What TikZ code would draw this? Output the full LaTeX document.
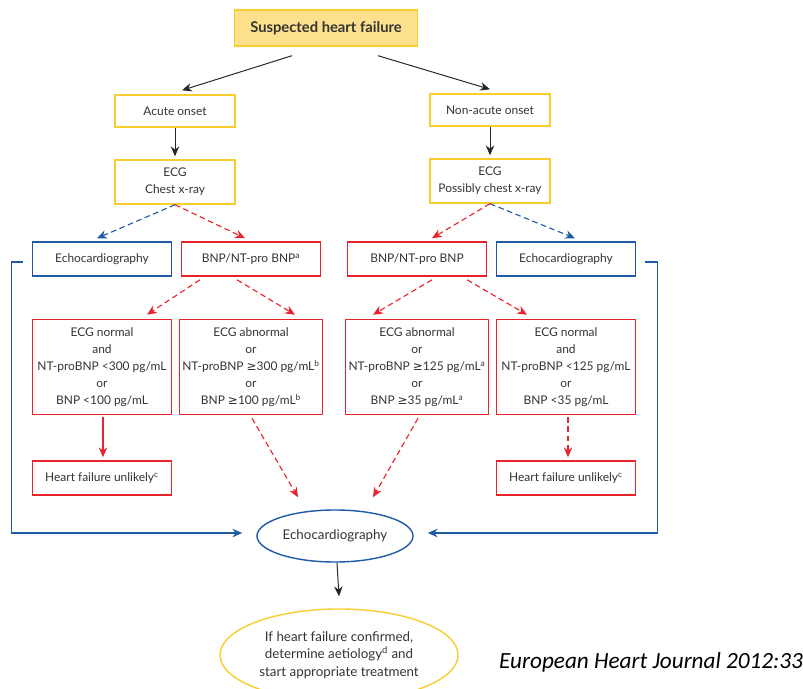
\documentclass[tikz,border=0pt]{standalone}
\usepackage{fontspec}
\setmainfont{Lato}
\newfontfamily\symfont{DejaVu Sans}
\newfontfamily\citefont{Carlito}
\usetikzlibrary{calc, shapes, arrows.meta}
\definecolor{hfyellow}{HTML}{F8CE2E}
\definecolor{hffill}{HTML}{FDE08C}
\definecolor{hfred}{HTML}{E8232B}
\definecolor{hfblue}{HTML}{1F5AA6}
\newcommand{\gte}{{\symfont ≥}}

\begin{document}
\begin{tikzpicture}
  [
    x = 0.025cm, y = -0.025cm,
    font = \fontsize{8.5}{12}\selectfont,
    every node/.style = {align = center, inner sep = 2pt, text = black!80},
    titlebox/.style = {draw = hfyellow, fill = hffill, line width = 1pt,
                       minimum width = 4.575cm, minimum height = 0.9cm},
    yellowbox/.style = {draw = hfyellow, line width = 1pt, minimum width = 3cm, minimum height = 0.8cm},
    redbox/.style = {draw = hfred, line width = 1.1pt, minimum width = 3.475cm, minimum height = 0.85cm},
    tallbox/.style = {redbox, minimum height = 2.375cm},
    bluebox/.style = {draw = hfblue, line width = 1pt, minimum width = 3.475cm, minimum height = 0.85cm},
    tip/.style = {-{Stealth[length = 7pt, width = 6pt]}},
    blk/.style = {draw = black!85, line width = 0.7pt, tip},
    redline/.style = {draw = hfred, line width = 0.8pt, tip},
    reddash/.style = {redline, dash pattern = on 4pt off 2.5pt},
    bluedash/.style = {draw = hfblue, line width = 0.8pt, tip, dash pattern = on 4pt off 2.5pt},
    blueline/.style = {draw = hfblue, line width = 1pt, tip}
  ]
  \useasboundingbox (0,0) rectangle (803,689);

  % top of the tree
  \node[titlebox, font = \fontsize{10.5}{12}\selectfont\bfseries] (Start) at (326,28) {Suspected heart failure};
  \node[yellowbox] (Acute) at (175,111) {Acute onset};
  \node[yellowbox] (NonAcute) at (490,110) {Non-acute onset};
  \node[yellowbox, minimum height = 1.1cm] (AcuteECG) at (175,182) {ECG\\Chest x-ray};
  \node[yellowbox, minimum height = 1.1cm] (NonAcuteECG) at (490,181) {ECG\\Possibly chest x-ray};

  % tests
  \node[bluebox] (EchoL) at (102,259) {Echocardiography};
  \node[redbox] (BnpL) at (251,259) {BNP/NT-pro BNP\textsuperscript{a}};
  \node[redbox] (BnpR) at (417,259) {BNP/NT-pro BNP};
  \node[bluebox] (EchoR) at (566,259) {Echocardiography};

  \node[tallbox] (NormL) at (102,367)
    {ECG normal\\and\\NT-proBNP <300 pg/mL\\or\\BNP <100 pg/mL};
  \node[tallbox] (AbnL) at (251,367)
    {ECG abnormal\\or\\NT-proBNP \gte300 pg/mL\textsuperscript{b}\\or\\BNP \gte100 pg/mL\textsuperscript{b}};
  \node[tallbox] (AbnR) at (417,367)
    {ECG abnormal\\or\\NT-proBNP \gte125 pg/mL\textsuperscript{a}\\or\\BNP \gte35 pg/mL\textsuperscript{a}};
  \node[tallbox] (NormR) at (566,367)
    {ECG normal\\and\\NT-proBNP <125 pg/mL\\or\\BNP <35 pg/mL};

  \node[redbox] (UnlikelyL) at (102,478) {Heart failure unlikely\textsuperscript{c}};
  \node[redbox] (UnlikelyR) at (566,478) {Heart failure unlikely\textsuperscript{c}};

  % bottom
  \node[ellipse, draw = hfblue, line width = 1pt, minimum width = 3.9cm, minimum height = 1.3cm,
        font = \fontsize{9.5}{12}\selectfont] (Echo) at (335,536) {Echocardiography};
  \node[ellipse, draw = hfyellow, line width = 1pt, minimum width = 5.95cm, minimum height = 2.3cm,
        font = \fontsize{9.5}{12.5}\selectfont] (Final) at (339,655)
    {If heart failure confirmed,\\determine aetiology\textsuperscript{d} and\\start appropriate treatment};

  \node[anchor = west, text = black, font = \citefont\itshape\fontsize{16.5}{18}\selectfont] (Cite) at (496,662)
    {European Heart Journal 2012:33};

  % arrows
  \draw[blk] ($(Start.south)+(-34,9)$) -- ($(Acute.north)+(7,-4)$);
  \draw[blk] ($(Start.south)+(52,9)$) -- ($(NonAcute.north)+(0,-4)$);
  \draw[blk] (Acute.south) -- ($(AcuteECG.north)+(0,-3)$);
  \draw[blk] (NonAcute.south) -- ($(NonAcuteECG.north)+(0,-3)$);

  \draw[bluedash] (AcuteECG.south) -- ($(EchoL.north)+(-5,-3)$);
  \draw[reddash] (AcuteECG.south) -- ($(BnpL.north)+(-6,-3)$);
  \draw[reddash] (NonAcuteECG.south) -- ($(BnpR.north)+(15,-3)$);
  \draw[bluedash] (NonAcuteECG.south) -- ($(EchoR.north)+(9,-3)$);

  \draw[reddash] ($(BnpL.south)+(-51,3)$) -- ($(NormL.north)+(45,-4)$);
  \draw[reddash] ($(BnpL.south)+(-14,3)$) -- ($(AbnL.north)+(44,-4)$);
  \draw[reddash] ($(BnpR.south)+(15,3)$) -- ($(AbnR.north)+(-44,-4)$);
  \draw[reddash] ($(BnpR.south)+(50,3)$) -- ($(NormR.north)+(-39,-4)$);

  \draw[redline] ($(NormL.south)+(1,2)$) -- ($(UnlikelyL.north)+(1,-3)$);
  \draw[reddash] ($(NormR.south)+(2,2)$) -- ($(UnlikelyR.north)+(2,-3)$);

  \draw[reddash] ($(AbnL.south)+(1,3)$) -- ($(Echo.north)+(-37,-12)$);
  \draw[reddash] ($(AbnR.south)+(1,3)$) -- ($(Echo.north)+(38,-12)$);

  \draw[blueline] ($(EchoL.west)+(-9,3)$) -- ($(EchoL.west)+(-20,3)$) |- ($(Echo.west)+(-14,-3)$);
  \draw[blueline] ($(EchoR.east)+(9,3)$) -- ($(EchoR.east)+(21,3)$) |- ($(Echo.east)+(14,-3)$);

  \draw[blk] ($(Echo.south)+(2,0)$) -- ($(Final.north)+(0,-12)$);
\end{tikzpicture}
\end{document}
